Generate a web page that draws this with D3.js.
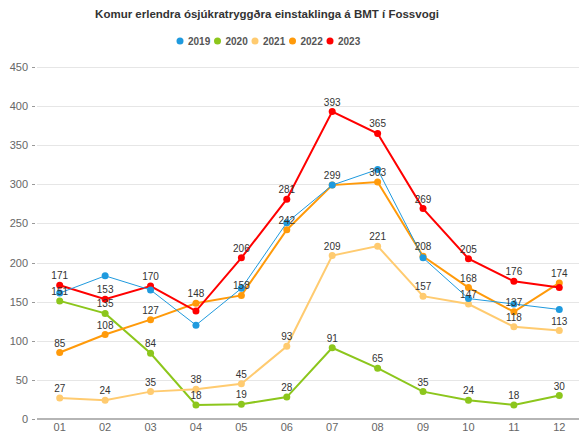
<!DOCTYPE html>
<html lang="en">
<head>
<meta charset="utf-8">
<title>Komur erlendra ósjúkratryggðra</title>
<script src="https://cdn.jsdelivr.net/npm/d3@7"></script>
<style>
  html, body { margin: 0; padding: 0; background: #fff; }
  svg { font-family: "Liberation Sans", Arial, sans-serif; display: block; }
  .grid line { stroke: #e6e6e6; stroke-width: 1; }
  .ylab { fill: #666; font-size: 11px; }
  .xlab { fill: #666; font-size: 11px; }
  .dlab { fill: #333; font-size: 10px; }
</style>
</head>
<body>
<div id="chart"></div>
<script>
var months = ["01","02","03","04","05","06","07","08","09","10","11","12"];
var years = ["2019","2020","2021","2022","2023"];
var colors = ["#1f9ade","#8cc61c","#ffcb70","#ff9a0a","#ff0000"];
var s2019 = [161,183,165,120,167,251,299,319,206,154,147,140];
var s2020 = [151,135,84,18,19,28,91,65,35,24,18,30];
var s2021 = [27,24,35,38,45,93,209,221,157,147,118,113];
var s2022 = [85,108,127,148,158,242,299,303,208,168,137,174];
var s2023 = [171,153,170,138,206,281,393,365,269,205,176,168];
var yTicks = [0,50,100,150,200,250,300,350,400,450];
// labels hidden where they collide in the original
var hideLabels = {"2023": ["04","12"]};

var series = [s2019, s2020, s2021, s2022, s2023];
var width = 579, height = 434;
var mLeft = 37, mRight = 582, mTop = 67, mBottom = 419;

var svg = d3.select("#chart").append("svg")
  .attr("width", width).attr("height", height);

var x = d3.scaleBand().domain(months).range([mLeft, mRight]);
var y = d3.scaleLinear().domain([0, 450]).range([mBottom, mTop]);

// title
svg.append("text")
  .attr("x", 267).attr("y", 18)
  .attr("text-anchor", "middle")
  .style("font-size", "11.5px").style("font-weight", "bold").style("fill", "#333")
  .text("Komur erlendra ósjúkratryggðra einstaklinga á BMT í Fossvogi");

// legend
var leg = svg.append("g").selectAll("g").data(years).join("g")
  .attr("transform", function(d, i) { return "translate(" + (180 + i * 37.5) + ",41)"; });
leg.append("circle").attr("r", 3.5).attr("fill", function(d, i) { return colors[i]; });
leg.append("text").attr("x", 8).attr("y", 3.5)
  .style("font-size", "10px").style("font-weight", "bold").style("fill", "#555")
  .text(function(d) { return d; });

// grid
svg.append("g").attr("class", "grid").selectAll("line").data(yTicks.slice(1)).join("line")
  .attr("x1", mLeft).attr("x2", 579)
  .attr("y1", function(d) { return Math.round(y(d)) + 0.5; })
  .attr("y2", function(d) { return Math.round(y(d)) + 0.5; });

var yAxis = svg.append("g");
yAxis.selectAll("text").data(yTicks).join("text")
  .attr("class", "ylab")
  .attr("x", 28).attr("y", function(d) { return y(d) + 4; })
  .attr("text-anchor", "end")
  .text(function(d) { return d; });
yAxis.selectAll("line").data(yTicks).join("line")
  .attr("x1", 32).attr("x2", 35)
  .attr("y1", function(d) { return Math.round(y(d)) + 0.5; })
  .attr("y2", function(d) { return Math.round(y(d)) + 0.5; })
  .attr("stroke", "#999");

// x axis
svg.append("line")
  .attr("x1", mLeft).attr("x2", 579).attr("y1", mBottom).attr("y2", mBottom)
  .attr("stroke", "#b5b5b5").attr("stroke-width", 2);
svg.append("g").selectAll("text").data(months).join("text")
  .attr("class", "xlab")
  .attr("x", function(d) { return x(d) + x.bandwidth() / 2; })
  .attr("y", 431)
  .attr("text-anchor", "middle")
  .text(function(d) { return d; });

var line = d3.line()
  .x(function(d, i) { return x(months[i]) + x.bandwidth() / 2; })
  .y(function(d) { return y(d); });

// 2019 is drawn last so it sits over the others, as in the original
[1, 2, 3, 4, 0].forEach(function(k) {
  var vals = series[k];
  var g = svg.append("g");
  g.append("path").datum(vals)
    .attr("d", line)
    .attr("fill", "none")
    .attr("stroke", colors[k])
    .attr("stroke-width", k === 0 ? 1 : 2);
  g.selectAll("circle").data(vals).join("circle")
    .attr("cx", function(d, i) { return x(months[i]) + x.bandwidth() / 2; })
    .attr("cy", function(d) { return y(d); })
    .attr("r", 3.5)
    .attr("fill", colors[k]);
});

// data labels (2019 has none)
series.forEach(function(vals, k) {
  if (k === 0) return;
  var hidden = hideLabels[years[k]] || [];
  svg.append("g").selectAll("text").data(vals).join("text")
    .attr("class", "dlab")
    .attr("x", function(d, i) { return x(months[i]) + x.bandwidth() / 2; })
    .attr("y", function(d) { return y(d) - 6; })
    .attr("text-anchor", "middle")
    .style("display", function(d, i) { return hidden.indexOf(months[i]) >= 0 ? "none" : null; })
    .text(function(d) { return d; });
});
</script>
</body>
</html>
